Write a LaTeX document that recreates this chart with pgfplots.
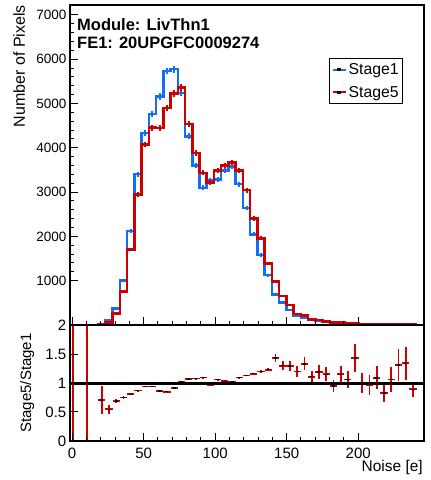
\documentclass[border=0pt]{standalone}
\usepackage{fontspec}
\setmainfont{Liberation Sans}
\usepackage{pgfplots}
\pgfplotsset{compat=1.18}
\usepackage{pgfplotstable}

\definecolor{sone}{RGB}{20,110,245}
\definecolor{sfive}{RGB}{204,0,0}

% bin centres, Stage1 counts/errors, Stage5 counts/errors
\pgfplotstableread{
xc s1 e1 s5 e5
-2.03 3 0 0 0
0.50 3 2 0 0
5.56 0 0 0 0
10.62 2 1 0 0
15.68 0 0 1 1
20.74 20 4 14 4
25.80 108 10 59 8
30.86 370 19 255 16
35.92 1009 32 755 27
40.98 2120 46 1707 41
46.04 3405 58 2946 54
51.10 4335 66 4072 64
56.16 4766 69 4455 67
61.22 5155 72 4450 67
66.28 5735 76 4905 70
71.34 5775 76 5225 72
76.40 5236 72 5360 73
81.46 4259 65 4538 67
86.52 3599 60 3885 62
91.58 3097 56 3435 59
96.64 3268 57 3223 57
101.70 3284 57 3490 59
106.76 3486 59 3606 60
111.82 3575 60 3665 61
116.88 3180 56 3493 59
121.94 2646 51 3043 55
127.00 2045 45 2405 49
132.06 1579 40 1955 44
137.12 1128 34 1392 37
142.18 694 26 980 31
147.24 507 23 655 26
152.30 340 18 446 21
157.36 205 14 250 16
162.42 160 13 214 15
167.48 115 11 128 11
172.54 92 10 110 10
177.60 70 8 80 9
182.66 60 8 57 8
187.72 48 7 55 7
192.78 40 6 42 6
197.84 32 6 46 7
202.90 28 5 28 5
207.96 24 5 23 5
213.02 20 4 22 5
218.08 18 4 15 4
223.14 15 4 16 4
228.20 13 4 17 4
233.26 12 3 16 4
238.32 11 3 10 3
240.85 11 0 10 0
}\hist

% ratio Stage5/Stage1
\pgfplotstableread{
xc r re
0.50 1 3
10.62 1 3
20.74 0.705 0.24
25.80 0.545 0.08
30.86 0.69 0.04
35.92 0.75 0.02
40.98 0.805 0.015
46.04 0.87 0.01
51.10 0.94 0.01
56.16 0.94 0.01
61.22 0.865 0.01
66.28 0.85 0.01
71.34 0.91 0.01
76.40 1.02 0.01
81.46 1.065 0.01
86.52 1.077 0.01
91.58 1.094 0.01
96.64 0.97 0.01
101.70 1.06 0.01
106.76 1.03 0.01
111.82 1.02 0.01
116.88 1.094 0.015
121.94 1.13 0.015
127.00 1.16 0.02
132.06 1.2 0.02
137.12 1.23 0.03
142.18 1.43 0.07
147.24 1.3 0.08
152.30 1.29 0.09
157.36 1.2 0.1
162.42 1.33 0.11
167.48 1.11 0.09
172.54 1.19 0.12
177.60 1.15 0.12
182.66 0.95 0.1
187.72 1.15 0.14
192.78 1.06 0.15
197.84 1.43 0.24
202.90 1.0 0.17
207.96 0.97 0.17
213.02 1.09 0.2
218.08 0.83 0.16
223.14 1.06 0.22
228.20 1.31 0.28
233.26 1.34 0.28
238.32 0.89 0.13
}\ratio

\pgfplotsset{
  rootstyle/.style={
    scale only axis, width=354pt,
    xmin=-1.5, xmax=246,
    enlargelimits=false,
    tick pos=left, tick align=inside,
    axis line style={line width=1.5pt},
    major tick style={line width=1pt, black},
    minor tick style={line width=1pt, black},
    major tick length=8pt, minor tick length=4pt,
    xtick={0,50,100,150,200}, minor x tick num=4,
    axis on top,
  }
}

\begin{document}
\begin{tikzpicture}
\useasboundingbox (-70pt,-39pt) rectangle (361pt,441pt);

\begin{axis}[rootstyle, name=bot, at={(0pt,0pt)}, anchor=south west,
  height=116pt, ymin=0, ymax=2,
  ytick={0,0.5,1,1.5,2}, yticklabels={0,0.5,1,1.5,2},
  xticklabels={0,50,100,150,200},
  xticklabel style={font=\fontsize{15}{18}\selectfont, inner sep=0pt, yshift=-7pt},
  yticklabel style={font=\fontsize{15}{18}\selectfont, inner sep=0pt, xshift=-3.5pt},
]
\addplot[sfive, only marks, mark=-, mark size=1.5pt,
  mark options={black, line width=1.5pt},
  error bars/.cd, x dir=both, x fixed=2.53, y dir=both, y explicit,
  error mark=none, error bar style={line width=1.8pt, sfive}]
  table[x=xc, y=r, y error=re]{\ratio};
\addplot[black, line width=3pt] coordinates {(-1.5,1) (246,1)};
\end{axis}

\begin{axis}[rootstyle, name=top, at={(0pt,116pt)}, anchor=south west,
  height=320pt, ymin=0, ymax=7225,
  ytick={1000,2000,3000,4000,5000,6000,7000},
  yticklabels={1000,2000,3000,4000,5000,6000,7000},
  minor y tick num=4,
  xticklabels={},
  yticklabel style={font=\fontsize{13.5}{16}\selectfont, inner sep=0pt, xshift=-3.5pt},
  legend style={at={(0.732,0.834)}, anchor=north west, draw=black, line width=1pt,
    fill=white, font=\fontsize{15.8}{18}\selectfont, inner xsep=2pt, inner ysep=3pt,
    row sep=6pt, cells={anchor=west}},
  legend cell align=left,
]
\addplot[sone, line width=2.5pt, const plot mark mid, forget plot,
  error bars/.cd, y dir=both, y explicit, error mark=none,
  error bar style={line width=2pt, sone}]
  table[x=xc, y=s1, y error=e1]{\hist};
\addplot[sfive, line width=2.5pt, const plot mark mid, forget plot,
  error bars/.cd, y dir=both, y explicit, error mark=none,
  error bar style={line width=2pt, sfive}]
  table[x=xc, y=s5, y error=e5]{\hist};
\addlegendimage{legend image code/.code={\draw[sone,line width=2pt](0pt,0pt)--(13pt,0pt);\fill[black](5.3pt,-1pt)rectangle(7.7pt,1pt);}}
\addlegendentry{Stage1}
\addlegendimage{legend image code/.code={\draw[sfive,line width=2pt](0pt,0pt)--(13pt,0pt);\fill[black](5.3pt,-1pt)rectangle(7.7pt,1pt);}}
\addlegendentry{Stage5}
\end{axis}

\node[anchor=base west, inner sep=0pt, font=\bfseries\fontsize{16.5}{19}\selectfont]
  at ([xshift=7pt,yshift=-25pt]top.north west) {Module: LivThn1};
\node[anchor=base west, inner sep=0pt, font=\bfseries\fontsize{16.5}{19}\selectfont]
  at ([xshift=7pt,yshift=-43.3pt]top.north west) {FE1: 20UPGFC0009274};
\node[rotate=90, anchor=north east, inner sep=0pt, font=\fontsize{16}{19}\selectfont]
  at ([xshift=-57pt]top.north west) {Number of Pixels};
\node[rotate=90, anchor=north, inner sep=0pt, font=\fontsize{15}{18}\selectfont]
  at ([xshift=-50pt]bot.west) {Stage5/Stage1};
\node[anchor=base east, inner sep=0pt, font=\fontsize{15.5}{18}\selectfont]
  at ([xshift=-1pt,yshift=-30.5pt]bot.south east) {Noise [e]};
\end{tikzpicture}
\end{document}
